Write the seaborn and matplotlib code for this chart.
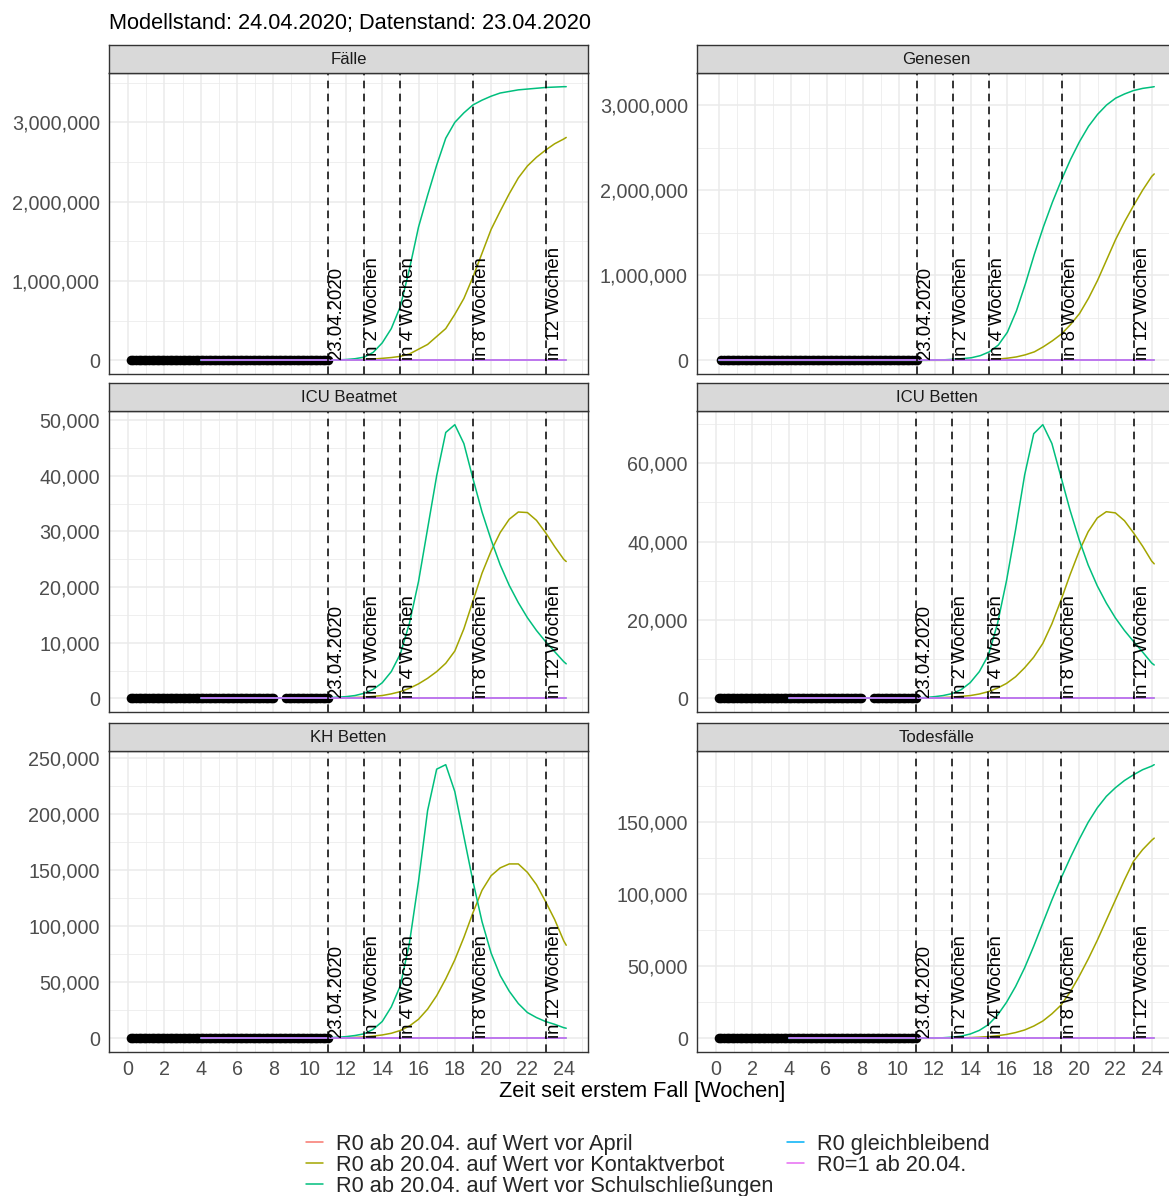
import matplotlib
matplotlib.use("Agg")
import numpy as np
import pandas as pd
import matplotlib.pyplot as plt
import seaborn as sns
from matplotlib.lines import Line2D
from matplotlib.ticker import FuncFormatter

titel = "Modellstand: 24.04.2020; Datenstand: 23.04.2020"
x_titel = "Zeit seit erstem Fall [Wochen]"

panels = ["Fälle", "Genesen", "ICU Beatmet", "ICU Betten", "KH Betten", "Todesfälle"]
szenarien = [
    "R0 ab 20.04. auf Wert vor April",
    "R0 ab 20.04. auf Wert vor Kontaktverbot",
    "R0 ab 20.04. auf Wert vor Schulschließungen",
    "R0 gleichbleibend",
    "R0=1 ab 20.04.",
]
farben = ["#F8766D", "#A3A500", "#00BF7D", "#00B0F6", "#E76BF3"]

# senkrechte Marken
marken_wochen = [11, 13, 15, 19, 23]
marken_text = ["23.04.2020", "in 2 Wochen", "in 4 Wochen", "in 8 Wochen", "in 12 Wochen"]

# beobachtete Tage (Punkte), auf dieser Skala praktisch 0
beob_tage = list(range(1, 78))
icu_luecke = [57, 58, 59, 60]
beob_werte = [0] * len(beob_tage)

# Modellkurven: Start (Wert 0) und Stuetzstellen ab Woche 11
modell_start = {"Fälle": 4, "Genesen": 0, "ICU Beatmet": 4, "ICU Betten": 4,
                "KH Betten": 4, "Todesfälle": 4}
modell_wochen = [11, 11.5, 12, 12.5, 13, 13.5, 14, 14.5, 15, 15.5, 16, 16.5, 17, 17.5,
                 18, 18.5, 19, 19.5, 20, 20.5, 21, 21.5, 22, 22.5, 23, 23.5, 24, 24.14]
null_kurve = [0] * len(modell_wochen)

# Werte in Tausend
faelle_kontakt = [1, 2, 4, 6, 10, 15, 25, 35, 50, 80, 140, 200, 300, 400,
                  580, 780, 1050, 1350, 1650, 1880, 2100, 2300, 2450, 2560, 2650, 2730, 2790, 2810]
faelle_schule = [2, 5, 10, 20, 40, 100, 220, 400, 680, 1150, 1680, 2080, 2460, 2800,
                 3000, 3120, 3220, 3280, 3330, 3370, 3390, 3410, 3420, 3430, 3440, 3445, 3450, 3450]
genesen_kontakt = [0, 0, 0, 0, 0.5, 1, 2, 4, 8, 15, 25, 40, 65, 100,
                   160, 230, 310, 420, 550, 730, 940, 1180, 1420, 1630, 1820, 2000, 2160, 2190]
genesen_schule = [0, 0, 3, 6, 12, 20, 30, 55, 100, 180, 330, 580, 900, 1250,
                  1570, 1860, 2120, 2360, 2570, 2750, 2890, 3000, 3080, 3130, 3170, 3195, 3210, 3215]
beatmet_kontakt = [0.05, 0.07, 0.1, 0.15, 0.2, 0.35, 0.5, 0.8, 1.2, 1.8, 2.6, 3.6, 4.8, 6.3,
                   8.5, 12.5, 17.5, 22.5, 26.5, 29.8, 32.2, 33.5, 33.4, 32.0, 29.8, 27.3, 25.0, 24.6]
beatmet_schule = [0.1, 0.2, 0.3, 0.5, 0.9, 1.6, 2.8, 4.8, 8.0, 13.5, 21.0, 30.5, 40.0, 47.8,
                  49.2, 45.8, 39.5, 33.5, 28.5, 24.0, 20.3, 17.2, 14.5, 12.2, 10.2, 8.4, 6.6, 6.2]
icu_kontakt = [0.05, 0.1, 0.15, 0.2, 0.3, 0.5, 0.7, 1.1, 1.7, 2.6, 3.8, 5.5, 7.8, 10.5,
               14.0, 19.0, 25.0, 31.5, 37.5, 42.5, 46.0, 47.6, 47.3, 45.3, 42.2, 38.8, 35.0, 34.3]
icu_schule = [0.1, 0.2, 0.4, 0.7, 1.2, 2.2, 4.0, 6.8, 11.0, 19.0, 30.0, 43.0, 57.0, 67.5,
              69.8, 65.0, 56.5, 48.0, 40.5, 34.0, 28.7, 24.3, 20.5, 17.3, 14.5, 11.8, 9.0, 8.5]
kh_kontakt = [0.2, 0.3, 0.5, 0.8, 1.2, 2.0, 3.0, 4.5, 7.0, 11.0, 17.0, 26.0, 38.0, 53.0,
              70.0, 90.0, 112.0, 132.0, 145.0, 152.0, 155.5, 155.5, 148.0, 137.0, 122.0, 106.0, 87.0, 83.0]
kh_schule = [0.5, 0.9, 1.5, 2.5, 4.0, 8.0, 15.0, 28.0, 47.0, 85.0, 140.0, 203.0, 240.0, 244.0,
             220.0, 180.0, 140.0, 104.0, 76.0, 56.0, 42.0, 31.0, 23.0, 18.5, 15.0, 12.5, 9.5, 9.0]
tod_kontakt = [0, 0, 0, 0.1, 0.2, 0.3, 0.5, 0.8, 1.2, 1.8, 2.7, 4.0, 5.8, 8.5,
               12.0, 17.0, 23.0, 32.0, 43.0, 55.0, 68.0, 82.0, 96.0, 110.0, 123.0, 131.0, 137.5, 139.0]
tod_schule = [0, 0.1, 0.2, 0.4, 0.8, 1.5, 3.0, 5.5, 9.5, 16.0, 25.0, 36.0, 49.0, 64.0,
              80.0, 96.0, 111.0, 125.0, 138.0, 150.0, 160.0, 168.0, 174.0, 179.0, 183.0, 186.5, 189.0, 190.0]

kurven = {
    "Fälle": (faelle_kontakt, faelle_schule),
    "Genesen": (genesen_kontakt, genesen_schule),
    "ICU Beatmet": (beatmet_kontakt, beatmet_schule),
    "ICU Betten": (icu_kontakt, icu_schule),
    "KH Betten": (kh_kontakt, kh_schule),
    "Todesfälle": (tod_kontakt, tod_schule),
}
y_ticks = {
    "Fälle": [0, 1000000, 2000000, 3000000],
    "Genesen": [0, 1000000, 2000000, 3000000],
    "ICU Beatmet": [0, 10000, 20000, 30000, 40000, 50000],
    "ICU Betten": [0, 20000, 40000, 60000],
    "KH Betten": [0, 50000, 100000, 150000, 200000, 250000],
    "Todesfälle": [0, 50000, 100000, 150000],
}
x_ticks = list(range(0, 25, 2))

# --- Daten in lange Tabellen ---
zeilen = []
for p in panels:
    kontakt, schule = kurven[p]
    reihen = [null_kurve, kontakt, schule, null_kurve, null_kurve]
    for s, werte in zip(szenarien, reihen):
        zeilen.append((p, s, modell_start[p], 0.0))
        for w, v in zip(modell_wochen, werte):
            zeilen.append((p, s, w, v * 1000))
modell = pd.DataFrame(zeilen, columns=["panel", "szenario", "woche", "wert"])

beob_zeilen = []
for p in panels:
    for t, v in zip(beob_tage, beob_werte):
        if p.startswith("ICU") and t in icu_luecke:
            continue
        beob_zeilen.append((p, t / 7, v))
beob = pd.DataFrame(beob_zeilen, columns=["panel", "woche", "wert"])

# --- Stil ---
sns.set_style("white")
plt.rcParams["font.family"] = ["Liberation Sans", "DejaVu Sans"]

W, H = 1169, 1196
fig = plt.figure(figsize=(W / 100, H / 100), dpi=100)

links = [109 / W, 697 / W]
breite = 479 / W
unten = [(H - 374) / H, (H - 712) / H, (H - 1052) / H]
hoehe = 301 / H
strip_h = 28 / H

grau_rand = "#333333"
gitter = "#EBEBEB"

for i, p in enumerate(panels):
    zeile, spalte = divmod(i, 2)
    ax = fig.add_axes([links[spalte], unten[zeile], breite, hoehe])

    sns.scatterplot(data=beob[beob.panel == p], x="woche", y="wert", color="black",
                    s=48, linewidth=0, ax=ax, zorder=2)
    sns.lineplot(data=modell[modell.panel == p], x="woche", y="wert", hue="szenario",
                 hue_order=szenarien, palette=farben, estimator=None, sort=False,
                 linewidth=1.1, legend=False, ax=ax, zorder=3)

    for w, t in zip(marken_wochen, marken_text):
        ax.axvline(w, color="black", lw=1.1, ls=(0, (5, 3.5)), zorder=4)
        ax.text(w, 0, t, rotation=90, ha="left", va="bottom", fontsize=13.4,
                color="black", zorder=5)

    yt = y_ticks[p]
    ax.set_yticks(yt)
    ax.set_yticks([(a + b) / 2 for a, b in zip(yt, yt[1:] + [yt[-1] + (yt[1] - yt[0])])], minor=True)
    ax.set_xticks(x_ticks)
    ax.set_xticks([x + 1 for x in x_ticks], minor=True)
    ax.yaxis.set_major_formatter(FuncFormatter(lambda v, pos: f"{v:,.0f}"))

    # Achsenbereiche wie ggplot (5 % Rand), nach den Ticks setzen
    alle_x = list(modell[modell.panel == p].woche) + list(beob[beob.panel == p].woche)
    alle_y = list(modell[modell.panel == p].wert) + [0]
    x0, x1 = min(alle_x), max(alle_x)
    y0, y1 = min(alle_y), max(alle_y)
    ax.set_xlim(x0 - 0.05 * (x1 - x0), x1 + 0.05 * (x1 - x0))
    ax.set_ylim(y0 - 0.05 * (y1 - y0), y1 + 0.05 * (y1 - y0))

    ax.grid(True, which="major", color=gitter, lw=1.1)
    ax.grid(True, which="minor", color=gitter, lw=0.55)
    ax.set_axisbelow(True)

    ax.tick_params(axis="y", which="major", length=4, width=1.0, color=grau_rand,
                   labelsize=14.2, labelcolor="#4D4D4D", pad=2.5)
    ax.tick_params(which="minor", length=0)
    if zeile == 2:
        ax.tick_params(axis="x", which="major", length=4, width=1.0, color=grau_rand,
                       labelsize=14.2, labelcolor="#4D4D4D", pad=1.5)
    else:
        ax.tick_params(axis="x", which="major", length=0, labelbottom=False)
    ax.set_xlabel("")
    ax.set_ylabel("")
    for sp in ax.spines.values():
        sp.set_color(grau_rand)
        sp.set_linewidth(1.0)
        sp.set_zorder(6)

    # Streifen mit Panelname
    st = fig.add_axes([links[spalte], unten[zeile] + hoehe, breite, strip_h])
    st.set_facecolor("#D9D9D9")
    st.set_xticks([])
    st.set_yticks([])
    for sp in st.spines.values():
        sp.set_color(grau_rand)
        sp.set_linewidth(1.0)
    st.text(0.5, 0.5, p, ha="center", va="center", fontsize=12.1, color="#1A1A1A",
            transform=st.transAxes)

fig.text(109 / W, 1 - 24 / H, titel, ha="left", va="center", fontsize=15.7, color="black")
fig.text(642 / W, 1 - 1091 / H, x_titel, ha="center", va="center", fontsize=15.7, color="black")

griffe = [Line2D([0], [0], color=c, lw=1.1) for c in farben]
fig.legend(griffe, szenarien, loc="upper center", bbox_to_anchor=(648 / W, 1 - 1134 / H),
           ncol=2, frameon=False, fontsize=15.7, handlelength=0.78, handletextpad=0.6,
           columnspacing=0.64, labelspacing=0.0, borderpad=0, borderaxespad=0)

fig.savefig("out.png", dpi=100)
